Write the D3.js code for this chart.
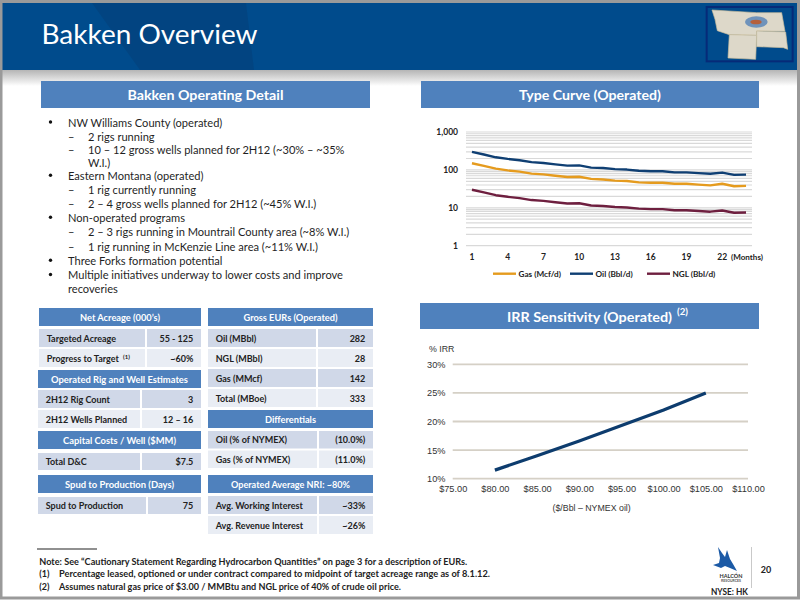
<!DOCTYPE html>
<html>
<head>
<meta charset="utf-8">
<script src="https://cdn.jsdelivr.net/npm/d3@7"></script>
<style>
  html, body { margin: 0; padding: 0; background: #fff; }
  svg { display: block; }
  text { font-family: Lato, "Noto Sans", sans-serif; }
</style>
</head>
<body>
<div id="slide"></div>
<script>
// ---- chart data ----
var months = d3.range(1, 25);
var monthTicks = [1, 4, 7, 10, 13, 16, 19, 22];
var gasValues = [150, 128, 108, 97, 90, 80, 76, 70, 65, 66, 58, 56, 52, 51, 47, 46, 46, 43, 43, 41, 39, 43, 37, 38];
var oilValues = [300, 255, 215, 195, 180, 160, 152, 140, 130, 132, 115, 112, 105, 102, 95, 92, 92, 86, 86, 82, 79, 85, 74, 75];
var nglValues = [30, 25.5, 21.5, 19.5, 18, 16, 15.2, 14, 13, 13.2, 11.5, 11.2, 10.5, 10.2, 9.5, 9.2, 9.2, 8.6, 8.6, 8.2, 7.9, 8.5, 7.4, 7.5];
var curveNames = ["Gas (Mcf/d)", "Oil (Bbl/d)", "NGL (Bbl/d)"];

var oilPrices = [80, 85, 90, 95, 100, 105];
var irrValues = [11.5, 14, 16.6, 19.3, 22, 25];
var priceTicks = [75, 80, 85, 90, 95, 100, 105, 110];
var irrTicks = [10, 15, 20, 25, 30];

// ---- slide text and table contents ----
// level: 0 bullet, 1 dash, 2 wrapped dash line, 3 wrapped bullet line
var bulletLines = [
  [0, "NW Williams County (operated)"],
  [1, "2 rigs running"],
  [1, "10 – 12 gross wells planned for 2H12 (~30% – ~35%"],
  [2, "W.I.)"],
  [0, "Eastern Montana (operated)"],
  [1, "1 rig currently running"],
  [1, "2 – 4 gross wells planned for 2H12 (~45% W.I.)"],
  [0, "Non-operated programs"],
  [1, "2 – 3 rigs running in Mountrail County area (~8% W.I.)"],
  [1, "1 rig running in McKenzie Line area (~11% W.I.)"],
  [0, "Three Forks formation potential"],
  [0, "Multiple initiatives underway to lower costs and improve"],
  [3, "recoveries"]
];
var netAcreageRows = [["Targeted Acreage", "55 - 125"], ["Progress to Target", "~60%"]];
var rigRows = [["2H12 Rig Count", "3"], ["2H12 Wells Planned", "12 – 16"]];
var capitalRows = [["Total D&C", "$7.5"]];
var spudRows = [["Spud to Production", "75"]];
var eurRows = [["Oil (MBbl)", "282"], ["NGL (MBbl)", "28"], ["Gas (MMcf)", "142"], ["Total (MBoe)", "333"]];
var differentialRows = [["Oil (% of NYMEX)", "(10.0%)"], ["Gas (% of NYMEX)", "(11.0%)"]];
var nriRows = [["Avg. Working Interest", "~33%"], ["Avg. Revenue Interest", "~26%"]];
var noteLines = [
  "Note: See “Cautionary Statement Regarding Hydrocarbon Quantities” on page 3 for a description of EURs.",
  "Percentage leased, optioned or under contract compared to midpoint of target acreage range as of 8.1.12.",
  "Assumes natural gas price of $3.00 / MMBtu and NGL price of 40% of crude oil price."
];

var navy = "#004b8c", banner = "#4f81bd", ink = "#222";
var curveColours = ["#e59b1e", "#0f3f73", "#6e1f3f"];

var svg = d3.select("#slide").append("svg").attr("width", 800).attr("height", 600);
var defs = svg.append("defs");
var shade = defs.append("linearGradient").attr("id", "shade").attr("x2", 0).attr("y2", 1);
shade.append("stop").attr("offset", 0).attr("stop-color", "#b5b5b5");
shade.append("stop").attr("offset", 1).attr("stop-color", "#fff");

function label(g, x, y, str, size, o) {
  o = o || {};
  var t = g.append("text").attr("x", x).attr("y", y).text(str)
    .attr("font-size", size)
    .attr("fill", o.fill || ink)
    .attr("font-weight", o.weight || "normal")
    .attr("text-anchor", o.anchor || "start")
    .attr("dominant-baseline", o.base || "central");
  if (o.family) t.style("font-family", o.family);
  if (o.width) t.attr("textLength", o.width).attr("lengthAdjust", "spacingAndGlyphs");
  return t;
}

function bannerBox(x, y, w, h, str, size, textWidth) {
  svg.append("rect").attr("x", x).attr("y", y).attr("width", w).attr("height", h).attr("fill", banner);
  return label(svg, x + w / 2, y + h / 2, str, size, {fill: "#fff", weight: "bold", anchor: "middle", width: textWidth});
}

// ---- frame and header ----
svg.append("rect").attr("y", 70).attr("width", 800).attr("height", 16).attr("fill", "url(#shade)");
svg.append("rect").attr("y", 3).attr("width", 800).attr("height", 67).attr("fill", navy);
svg.append("path").attr("d", "M92,3 L140,70 L254,70 L246,3 Z").attr("fill", "#033f78").attr("opacity", 0.55);
svg.append("rect").attr("x", 1).attr("y", 1.5).attr("width", 797.5).attr("height", 596.5)
  .attr("fill", "none").attr("stroke", "#9a9a9a").attr("stroke-width", 3);
label(svg, 41.5, 44, "Bakken Overview", 27, {fill: "#fff", base: "auto", width: 216});

// location map in the header
var map = svg.append("g").attr("transform", "translate(640,0) scale(0.3333)");
map.append("rect").attr("x", 200).attr("y", 21).attr("width", 258).attr("height", 163)
  .attr("fill", navy).attr("stroke", "#062a78").attr("stroke-width", 6);
map.selectAll("path.state")
  .data([
    "M216,30 L350,38 L425,38 L435,94 L350,93 L350,106 L268,104 L232,92 L225,58 Z",
    "M350,93 L437,96 L443,148 L430,143 L350,140 Z",
    "M268,104 L350,106 L347,178 L264,174 Z"
  ])
  .enter().append("path").attr("class", "state").attr("d", String)
  .attr("fill", "#ddd8c9").attr("stroke", "#c8bd9c").attr("stroke-width", 2);
map.append("ellipse").attr("cx", 349).attr("cy", 66).attr("rx", 34).attr("ry", 17).attr("fill", "#6f93bb");
map.append("ellipse").attr("cx", 348).attr("cy", 66).attr("rx", 17).attr("ry", 7).attr("fill", "#b5603c");

// ---- section banners ----
bannerBox(41, 81, 329, 27, "Bakken Operating Detail", 14, 156);
bannerBox(421, 81, 338, 27, "Type Curve (Operated)", 14, 142);
var irrTitle = bannerBox(420, 303, 339, 26, "IRR Sensitivity (Operated)", 14, 165);
irrTitle.attr("x", 589.5);
label(svg, 677, 311, "(2)", 9.5, {fill: "#fff", weight: "bold", width: 11});

// ---- bullet list ----
var lineY = [122, 136, 149, 162, 175.3, 189.3, 203.7, 217.3, 231.7, 246, 260.3, 274.5, 288];
var bulletText = svg.append("g");
bulletLines.forEach(function(d, i) {
  var y = lineY[i];
  if (d[0] === 0) bulletText.append("circle").attr("cx", 50.5).attr("cy", y).attr("r", 1.7).attr("fill", "#111");
  if (d[0] === 1) label(bulletText, 68, y, "–", 11.1);
  var x = d[0] === 1 || d[0] === 2 ? 88 : 68;
  label(bulletText, x, y, d[1], 11.1, {fill: "#1f1f1f"});
});

// ---- small tables ----
function table(x, w, split, headY, title, rows, rowY, rowH, titleWidth) {
  bannerBox(x, headY, w, 18, title, 9.5, titleWidth);
  rows.forEach(function(r, i) {
    var y = rowY + i * (rowH + 2);
    var fill = i % 2 === 0 ? "#d0d8e8" : "#e9edf4";
    svg.append("rect").attr("x", x).attr("y", y).attr("width", split - x).attr("height", rowH).attr("fill", fill);
    svg.append("rect").attr("x", split + 2).attr("y", y).attr("width", x + w - split - 2).attr("height", rowH).attr("fill", fill);
    label(svg, x + 7.7, y + rowH / 2, r[0], 9, {weight: "bold"});
    label(svg, x + w - 7.7, y + rowH / 2, r[1], 9, {weight: "bold", anchor: "end"});
  });
}
table(39, 162, 145, 308, "Net Acreage (000’s)", netAcreageRows, 329, 18, 80);
table(38, 163, 140, 370, "Operated Rig and Well Estimates", rigRows, 390, 18, 137);
table(38, 163, 140, 431, "Capital Costs / Well ($MM)", capitalRows, 453, 17, 113);
table(38, 163, 146, 475, "Spud to Production (Days)", spudRows, 497, 17, 109);
table(208, 165, 316, 308, "Gross EURs (Operated)", eurRows, 329, 18, 94);
table(208, 165, 317, 410, "Differentials", differentialRows, 431, 17.5, 51);
table(208, 165, 317, 475, "Operated Average NRI: ~80%", nriRows, 496, 18, 119);
label(svg, 123, 356, "(1)", 6, {weight: "bold"});

// ---- type curve chart (log scale) ----
var curveX = d3.scaleBand().domain(months).range([466, 752]);
var curveY = d3.scaleLog().domain([1, 1000]).range([245.7, 132]);
var curveTicks = curveY.ticks().filter(function(v) { return v <= 1000; });

var curveChart = svg.append("g");
curveChart.selectAll("line.grid").data(curveTicks).enter().append("line")
  .attr("class", "grid")
  .attr("x1", 466).attr("x2", 752)
  .attr("y1", function(d) { return curveY(d); })
  .attr("y2", function(d) { return curveY(d); })
  .attr("stroke", "#d9d9d9").attr("stroke-width", 1.2);

var curveAxisY = curveChart.append("g").attr("transform", "translate(461,0)")
  .call(d3.axisLeft(curveY).tickValues([1, 10, 100, 1000]).tickFormat(d3.format(",")).tickSize(0));
var curveAxisX = curveChart.append("g").attr("transform", "translate(0,248.5)")
  .call(d3.axisBottom(curveX).tickValues(monthTicks).tickSize(0).tickPadding(5));
[curveAxisY, curveAxisX].forEach(function(a) {
  a.select(".domain").remove();
  a.selectAll("text").attr("font-size", 8.5).attr("font-weight", "bold").attr("fill", ink).style("font-family", "Lato");
});
label(svg, 731, 256.7, "(Months)", 8, {weight: "bold", width: 32});

var curveLine = d3.line()
  .x(function(d, i) { return curveX(months[i]) + curveX.bandwidth() / 2; })
  .y(function(d) { return curveY(d); });
[gasValues, oilValues, nglValues].forEach(function(vals, k) {
  curveChart.append("path").attr("d", curveLine(vals)).attr("fill", "none")
    .attr("stroke", curveColours[k]).attr("stroke-width", 2.4).attr("stroke-linejoin", "round");
});

var legendX = d3.scalePoint().domain(curveNames).range([493, 647]);
curveNames.forEach(function(n, k) {
  var x = legendX(n);
  svg.append("line").attr("x1", x).attr("x2", x + 23).attr("y1", 273.7).attr("y2", 273.7)
    .attr("stroke", curveColours[k]).attr("stroke-width", 2.4);
  label(svg, x + 25.5, 274, n, 8.2, {weight: "bold"});
});

// ---- IRR sensitivity chart ----
var irrX = d3.scaleLinear().domain([75, 110]).range([452.7, 748]);
var irrY = d3.scaleLinear().domain([10, 30]).range([478.7, 364.3]);
var irrChart = svg.append("g");
irrChart.selectAll("line.grid").data(irrTicks).enter().append("line")
  .attr("class", "grid")
  .attr("x1", 452.7).attr("x2", 748)
  .attr("y1", function(d) { return irrY(d); })
  .attr("y2", function(d) { return irrY(d); })
  .attr("stroke", "#d5d0c6").attr("stroke-width", 1.8);
var irrAxisY = irrChart.append("g").attr("transform", "translate(448.5,0)")
  .call(d3.axisLeft(irrY).tickValues(irrTicks).tickFormat(function(d) { return d + "%"; }).tickSize(0));
var irrAxisX = irrChart.append("g").attr("transform", "translate(0,483)")
  .call(d3.axisBottom(irrX).tickValues(priceTicks).tickFormat(d3.format("$.2f")).tickSize(0).tickPadding(2));
[irrAxisY, irrAxisX].forEach(function(a) {
  a.select(".domain").remove();
  a.selectAll("text").attr("font-size", 9.2).attr("fill", "#333").style("font-family", "Liberation Sans");
});
var irrLine = d3.line()
  .x(function(d, i) { return irrX(oilPrices[i]); })
  .y(function(d) { return irrY(d); });
irrChart.append("path").attr("d", irrLine(irrValues)).attr("fill", "none")
  .attr("stroke", "#0d3c6e").attr("stroke-width", 3.2);
label(svg, 429, 349, "% IRR", 8.8, {fill: "#333", family: "Liberation Sans"});
label(svg, 552.5, 508, "($/Bbl – NYMEX oil)", 8.8, {fill: "#333", family: "Liberation Sans"});

// ---- footnotes ----
svg.append("line").attr("x1", 37).attr("x2", 97).attr("y1", 549).attr("y2", 549)
  .attr("stroke", "#222").attr("stroke-width", 1.2);
label(svg, 39.3, 561.7, noteLines[0], 9, {weight: "bold", width: 428});
label(svg, 39.3, 573.7, "(1)", 9, {weight: "bold"});
label(svg, 59, 573.7, noteLines[1], 9, {weight: "bold", width: 431});
label(svg, 39.3, 586, "(2)", 9, {weight: "bold"});
label(svg, 59, 586, noteLines[2], 9, {weight: "bold", width: 342});

// ---- logo and page number ----
svg.append("path")
  .attr("d", "M718,547 L722,553 L725,557 L727,550 L730,559 L733,564 L737,571 L730,568 L725,566 L721,568 L713,565 L719,563 L720,558 Z")
  .attr("fill", "#1c5aa6");
label(svg, 731, 575.5, "HALCÓN", 5.5, {anchor: "middle", weight: "bold", fill: "#333"});
label(svg, 731, 580.5, "RESOURCES", 3.5, {anchor: "middle", fill: "#555", weight: "bold"});
label(svg, 729.5, 591, "NYSE: HK", 9, {anchor: "middle", weight: "bold", width: 37});
svg.append("line").attr("x1", 751.5).attr("x2", 751.5).attr("y1", 547).attr("y2", 588)
  .attr("stroke", "#bbb").attr("stroke-width", 0.8);
label(svg, 766, 569, "20", 9, {anchor: "middle", weight: "bold"});
</script>
</body>
</html>
